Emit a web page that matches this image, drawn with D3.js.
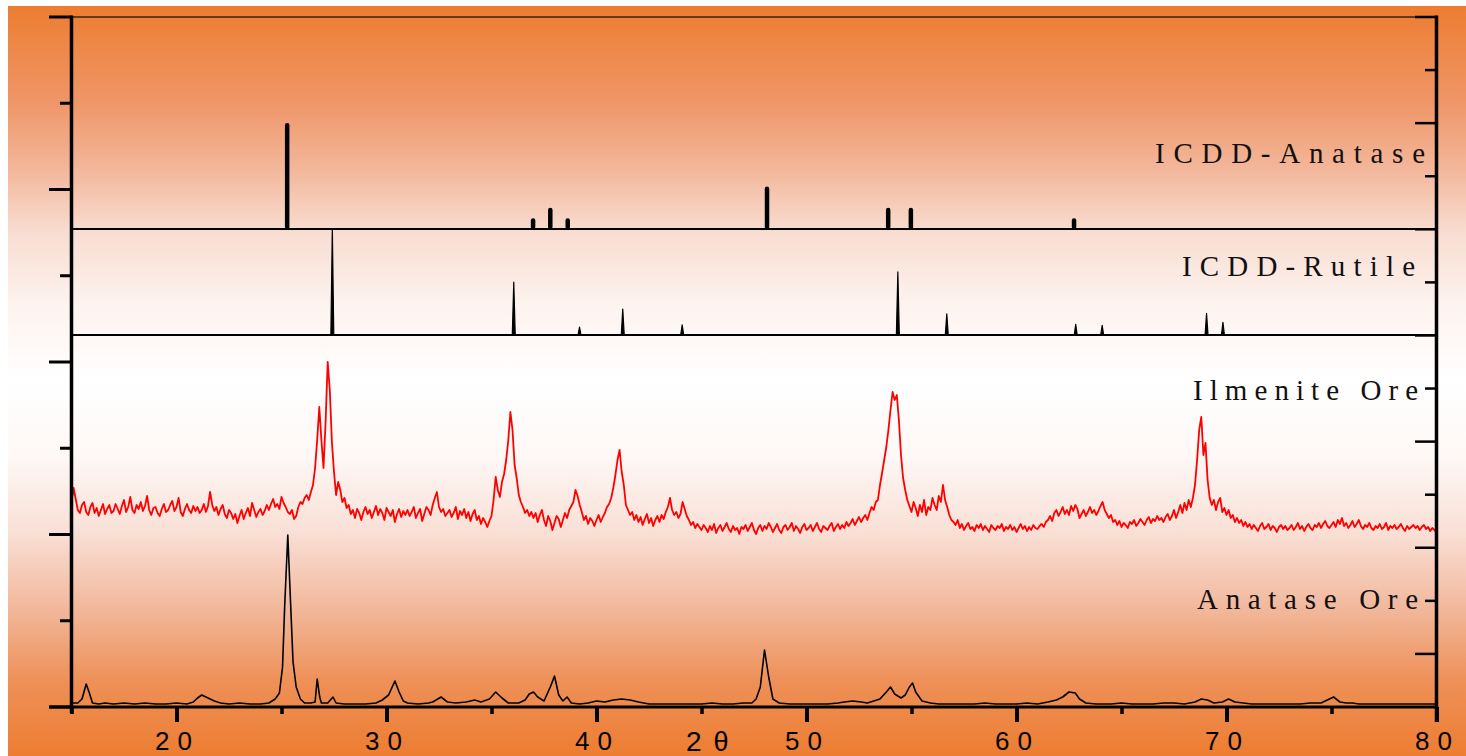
<!DOCTYPE html>
<html>
<head>
<meta charset="utf-8">
<script src="https://cdn.jsdelivr.net/npm/d3@7/dist/d3.min.js"></script>
<style>
  html, body { margin: 0; padding: 0; background: #ffffff; }
  svg { display: block; }
</style>
</head>
<body>
<svg id="chart" width="1466" height="756"></svg>
<script>
// ---------------- DATA ----------------
// x-axis ticks (2θ, degrees)
const xMajorTicks = [20, 30, 40, 50, 60, 70, 80];
const xMinorTicks = [15, 25, 35, 45, 55, 65, 75];

// ICDD Anatase reference lines (2θ, relative intensity)
const anataseRefPos = [25.27, 36.98, 37.80, 38.63, 48.12, 53.89, 54.97, 62.74];
const anataseRefInt = [100, 10, 20, 10, 40, 20, 20, 10];

// ICDD Rutile reference lines (2θ, relative intensity)
const rutileRefPos = [27.42, 36.06, 39.19, 41.25, 44.08, 54.35, 56.68, 62.82, 64.08, 69.05, 69.83];
const rutileRefInt = [100, 50, 7.5, 24.5, 9.5, 59.5, 20, 10, 9, 20.5, 12];

// Ilmenite Ore pattern: intensity (a.u.) sampled every 0.1° from 15°
const ilmeniteStart = 15, ilmeniteStep = 0.1;
const ilmeniteI = [
  38,52,41,30,27,35,38,28,25,33, 37,27,32,24,30,36,26,31,35,27,
  29,36,31,26,34,40,28,33,43,30, 27,35,31,38,29,34,44,30,25,32,
  33,27,24,31,36,28,30,35,39,29, 33,42,28,24,31,36,30,27,34,29,
  33,27,30,36,28,34,48,35,29,33, 25,31,35,26,22,30,27,21,26,17,
  24,30,21,27,32,24,37,30,23,28, 31,25,29,35,30,36,41,33,36,31,
  43,37,33,28,26,30,21,24,33,38, 36,42,45,40,48,55,72,100,133,100,
  72,118,178,150,98,68,45,58,50,38, 42,32,35,26,30,22,31,27,20,28,
  33,26,30,22,28,34,25,31,27,20, 32,28,24,30,18,26,31,23,29,25,
  30,24,28,33,22,27,31,19,26,33, 30,25,35,42,48,33,28,31,24,27,
  30,23,27,33,21,29,25,31,22,28, 19,26,30,20,24,16,22,18,13,19,
  24,40,63,50,43,58,66,80,100,128, 110,75,62,45,38,33,27,30,24,28,
  22,27,18,25,30,20,14,24,19,10, 17,24,21,13,20,27,22,30,34,38,
  50,44,35,28,20,24,16,22,19,14, 20,25,18,23,27,33,36,42,52,65,
  80,90,68,55,35,30,25,28,20,25, 18,23,15,21,26,17,22,14,20,24,
  18,25,21,28,33,42,30,25,28,22, 26,38,31,24,20,15,18,12,16,13,
  10,15,12,8,14,10,16,7,12,15, 9,13,17,11,8,14,10,12,6,13,
  11,15,9,13,17,10,6,12,15,9, 14,11,17,13,8,12,16,10,7,13,
  15,10,13,17,9,14,11,7,13,16, 10,12,15,9,13,17,11,8,14,12,
  10,14,17,9,13,16,11,15,12,18, 14,17,21,15,19,23,18,22,25,20,
  27,33,30,38,40,55,67,80,93,110, 130,148,140,145,120,85,62,50,40,34,
  28,38,32,24,35,28,40,25,33,30, 42,35,30,44,38,55,40,33,25,20,
  18,15,20,12,16,10,14,17,11,13, 9,15,12,16,10,14,11,8,15,12,
  10,14,12,16,9,13,11,15,10,13, 8,12,16,11,14,9,13,10,15,12,
  11,14,16,13,18,20,24,19,27,30, 24,28,33,26,30,25,34,29,35,31,
  22,26,30,24,28,33,27,30,25,29, 34,38,30,26,22,25,18,20,15,19,
  13,17,15,12,18,16,20,14,17,21, 18,15,20,23,17,21,19,24,20,22,
  18,23,26,20,24,30,22,28,35,27, 37,30,40,33,42,55,80,110,123,85,
  97,60,42,35,40,30,38,42,28,32, 25,30,22,25,18,22,17,20,14,18,
  13,16,11,15,12,9,14,17,11,13, 16,10,14,12,8,13,15,11,14,10,
  12,15,10,13,17,11,14,9,13,16, 12,10,15,13,17,12,16,19,14,12,
  15,18,13,20,16,22,14,17,12,15, 19,13,16,20,14,11,15,13,17,12,
  10,14,12,16,11,13,17,10,14,12, 15,11,13,16,12,9,14,11,13,15,
  12,14,10,13,15,11,13,9,12,10,8
];

// Anatase Ore pattern: (2θ, intensity a.u.)
const anataseOre2T = [
  15.0,15.3,15.5,15.7,15.85,16.0,16.3,16.6,17.0,17.5,18.0,18.5,19.0,19.5,20.0,20.5,20.8,21.0,21.2,21.5,
  21.8,22.1,22.5,23.0,23.5,24.0,24.4,24.7,24.9,25.05,25.15,25.3,25.42,25.55,25.7,25.9,26.1,26.4,26.6,26.7,
  26.82,26.9,27.2,27.45,27.6,28.0,28.5,29.0,29.5,29.8,30.1,30.4,30.6,30.8,31.0,31.5,32.0,32.2,32.6,32.9,
  33.3,33.8,34.2,34.5,34.9,35.2,35.5,35.8,36.3,36.6,36.8,37.0,37.2,37.5,37.8,38.0,38.2,38.4,38.6,38.8,
  39.2,39.6,40.0,40.4,40.8,41.2,41.6,42.0,42.5,43.0,43.5,44.0,44.5,45.0,45.5,46.0,46.5,47.0,47.4,47.6,
  47.8,48.0,48.2,48.4,48.7,49.2,50.0,50.5,51.0,51.5,51.8,52.2,52.6,52.9,53.2,53.5,53.8,54.0,54.2,54.5,
  54.7,54.9,55.05,55.2,55.5,55.9,56.3,57.0,57.5,58.0,58.5,59.0,59.5,60.0,60.5,61.0,61.5,61.9,62.2,62.5,
  62.8,63.0,63.3,63.8,64.5,65.0,65.5,66.0,66.5,67.0,67.5,68.0,68.5,68.8,69.1,69.4,69.8,70.1,70.4,70.8,
  71.2,72.0,72.5,73.0,73.5,74.0,74.5,74.8,75.1,75.4,75.7,76.0,76.3,77.0,78.0,79.0,80.0
];
const anataseOreI = [
  4,4,8,23,14,4,3,4,3,4,3,4,3,3,4,3,5,9,12,9,
  6,4,3,4,3,3,4,8,14,40,100,172,110,45,20,8,4,4,5,28,
  10,4,4,10,4,3,3,3,4,7,12,26,15,6,4,3,4,5,10,5,
  4,5,7,5,8,15,9,4,4,7,13,15,10,6,20,31,12,6,10,4,
  3,4,6,5,7,8,7,5,3,3,3,3,3,3,4,3,3,4,4,8,
  20,57,30,8,4,3,3,3,3,4,5,6,5,4,6,8,15,20,13,9,
  12,20,24,15,6,4,3,3,3,3,4,3,3,3,4,3,5,7,10,15,
  14,8,4,3,3,4,3,3,3,4,4,3,5,8,7,4,5,8,5,4,
  3,3,3,3,3,4,4,7,10,5,4,4,3,3,3,3,3
];

// Panel labels
const panelLabels = ["ICDD-Anatase", "ICDD-Rutile", "Ilmenite Ore", "Anatase Ore"];

// ---------------- LAYOUT ----------------
const svg = d3.select("#chart");
const L = 71.5, R = 1436.5, T = 17, B = 707;

const x = d3.scaleLinear().domain([15, 80]).range([L, R]);
const yAnat = d3.scaleLinear().domain([0, 200]).range([229, T]);
const yRut = d3.scaleLinear().domain([0, 100]).range([335, 229]);
const yIlm = d3.scaleLinear().domain([0, 178]).range([540, 362]);
const yOre = d3.scaleLinear().domain([0, 172]).range([B, 535]);

// background gradient
const defs = svg.append("defs");
const grad = defs.append("linearGradient").attr("id", "bg")
  .attr("x1", 0).attr("y1", 0).attr("x2", 0).attr("y2", 1);
[[0, "#ED7D31"], [0.13, "#EF9668"], [0.22, "#F3B89C"], [0.3, "#F8DCD0"],
 [0.4, "#FDF3EF"], [0.5, "#FFFFFF"], [0.6, "#FEF8F6"], [0.7, "#F9E0D6"],
 [0.8, "#F2B99E"], [0.9, "#EE9058"], [1, "#ED7D31"]].forEach(s =>
  grad.append("stop").attr("offset", s[0]).attr("stop-color", s[1]));
svg.append("rect").attr("x", 8).attr("y", 6).attr("width", 1458).attr("height", 750)
  .attr("fill", "url(#bg)");

// top frame line
svg.append("line").attr("x1", L).attr("x2", R).attr("y1", T).attr("y2", T)
  .attr("stroke", "#3a2410").attr("stroke-width", 1.3);

// panel baselines
[229, 335].forEach(yy => svg.append("line").attr("x1", L).attr("x2", R)
  .attr("y1", yy).attr("y2", yy).attr("stroke", "#000").attr("stroke-width", 2));

// ICDD Anatase sticks (thick, rounded tops)
svg.append("g").selectAll("line").data(anataseRefPos).join("line")
  .attr("x1", d => x(d)).attr("x2", d => x(d))
  .attr("y1", yAnat(0) - 2)
  .attr("y2", (d, i) => yAnat(anataseRefInt[i]) + 2.2)
  .attr("stroke", "#000").attr("stroke-width", 4.5).attr("stroke-linecap", "round");

// ICDD Rutile sticks (thin narrow peaks)
svg.append("g").selectAll("path").data(rutileRefPos).join("path")
  .attr("d", (d, i) => `M${x(d - 0.07)},${yRut(0)} L${x(d)},${yRut(rutileRefInt[i])} L${x(d + 0.07)},${yRut(0)}`)
  .attr("fill", "#000").attr("stroke", "#000").attr("stroke-width", 1.2)
  .attr("stroke-linejoin", "round");

// Ilmenite ore (red)
const ilmLine = d3.line()
  .x((d, i) => x(ilmeniteStart + i * ilmeniteStep))
  .y(d => yIlm(d));
svg.append("path").datum(ilmeniteI).attr("d", ilmLine)
  .attr("fill", "none").attr("stroke", "#FF0000").attr("stroke-width", 1.8)
  .attr("stroke-linejoin", "round");

// Anatase ore (black)
const oreLine = d3.line()
  .x((d, i) => x(anataseOre2T[i]))
  .y(d => yOre(d));
svg.append("path").datum(anataseOreI).attr("d", oreLine)
  .attr("fill", "none").attr("stroke", "#000").attr("stroke-width", 1.6)
  .attr("stroke-linejoin", "round");

// ---------------- AXES ----------------
// Left axis: 8 intervals, long ticks at even
const yLeft = d3.scaleLinear().domain([0, 8]).range([B, T]);
svg.append("g").selectAll("line").data(d3.range(0, 9)).join("line")
  .attr("x1", d => d % 2 === 0 ? 49 : 60).attr("x2", L)
  .attr("y1", d => yLeft(d)).attr("y2", d => yLeft(d))
  .attr("stroke", "#000").attr("stroke-width", 3);

// Right axis: 13 intervals, inward ticks
const yRight = d3.scaleLinear().domain([0, 13]).range([B, T]);
svg.append("g").selectAll("line").data(d3.range(1, 14)).join("line")
  .attr("x1", d => (13 - d) % 2 === 0 ? 1415 : 1425).attr("x2", R)
  .attr("y1", d => yRight(d)).attr("y2", d => yRight(d))
  .attr("stroke", "#000").attr("stroke-width", 2.5);

// bottom axis ticks
const gx = svg.append("g").attr("transform", `translate(0,${B})`);
gx.call(d3.axisBottom(x).tickValues(xMinorTicks).tickSize(7).tickFormat(""));
gx.call(g => g.select(".domain").remove());
gx.selectAll(".tick line").attr("stroke", "#000").attr("stroke-width", 3.5);
const gx2 = svg.append("g").attr("transform", `translate(0,${B})`);
gx2.call(d3.axisBottom(x).tickValues(xMajorTicks).tickSize(15).tickFormat(d3.format("d")));
gx2.call(g => g.select(".domain").remove());
gx2.selectAll(".tick line").attr("stroke", "#000").attr("stroke-width", 4);
gx2.selectAll(".tick text")
  .attr("fill", "#000")
  .attr("font-family", "'Liberation Sans', Arial, sans-serif")
  .attr("font-size", 26)
  .attr("text-anchor", "start")
  .attr("x", -22).attr("y", 43).attr("dy", 0)
  .attr("textLength", 37).attr("lengthAdjust", "spacing");

// axis lines
svg.append("line").attr("x1", L).attr("x2", L).attr("y1", T - 1.5).attr("y2", B + 6)
  .attr("stroke", "#000").attr("stroke-width", 3.5);
svg.append("line").attr("x1", R).attr("x2", R).attr("y1", T - 1.5).attr("y2", B + 15)
  .attr("stroke", "#000").attr("stroke-width", 3.5);
svg.append("line").attr("x1", 49).attr("x2", R + 1.5).attr("y1", B).attr("y2", B)
  .attr("stroke", "#000").attr("stroke-width", 3);

// x-axis title 2θ
const xt = svg.append("text").attr("x", 686).attr("y", 751)
  .attr("font-family", "'Liberation Sans', Arial, sans-serif").attr("fill", "#000");
xt.append("tspan").attr("font-size", 28).text("2");
xt.append("tspan").attr("dx", 12).attr("font-size", 27).text("θ");

// panel labels
const labelPos = [
  { x: 1155, y: 163, w: 270 },
  { x: 1182, y: 276, w: 233 },
  { x: 1193, y: 400, w: 225 },
  { x: 1197, y: 609, w: 221 }
];
svg.append("g").selectAll("text").data(panelLabels).join("text")
  .attr("x", (d, i) => labelPos[i].x).attr("y", (d, i) => labelPos[i].y)
  .attr("textLength", (d, i) => labelPos[i].w).attr("lengthAdjust", "spacing")
  .attr("font-family", "'Liberation Serif', 'Times New Roman', serif")
  .attr("font-size", 29).attr("fill", "#111")
  .text(d => d);
</script>
</body>
</html>
